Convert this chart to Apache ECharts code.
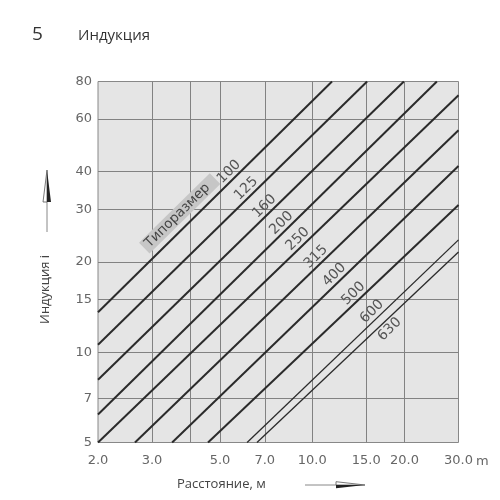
<!DOCTYPE html>
<html>
<head>
<meta charset="utf-8">
<script src="https://cdn.jsdelivr.net/npm/echarts@6/dist/echarts.min.js"></script>
<style>
html,body{margin:0;padding:0;background:#fff}
#container1{width:500px;height:500px}
</style>
</head>
<body>
<div id="container1"></div>
<script>
// типоразмеры (подписи линий)
var sizes = ['100', '125', '160', '200', '250', '315', '400', '500', '600', '630'];
// точки входа / выхода линий из поля графика: [расстояние м, индукция]
var lineStart = [[2.0, 13.6], [2.0, 10.6], [2.0, 8.1], [2.0, 6.2], [2.0, 5.0], [2.64, 5], [3.49, 5], [4.57, 5], [6.13, 5], [6.6, 5]];
var lineEnd = [[11.6, 80], [15.1, 80], [19.9, 80], [25.5, 80], [30, 72], [30, 55], [30, 41.8], [30, 31], [30, 23.7], [30, 21.6]];
// подписи и сетка осей
var xLabels = [2, 3, 5, 7, 10, 15, 20, 30];
var xGrid = [3, 4, 5, 7, 10, 15, 20];
var yLabels = [5, 7, 10, 15, 20, 30, 40, 60, 80];
var yGrid = [7, 10, 15, 20, 30, 40, 60];

// точка на линии (в лог. координатах) где lg(x)+lg(y)=c
function pointAt(a, b, c) {
	var x1 = Math.log10(a[0]), y1 = Math.log10(a[1]);
	var x2 = Math.log10(b[0]), y2 = Math.log10(b[1]);
	var t = (c - x1 - y1) / ((x2 + y2) - (x1 + y1));
	return [Math.pow(10, x1 + t * (x2 - x1)), Math.pow(10, y1 + t * (y2 - y1))];
}

var myChart = echarts.init(document.getElementById('container1'));
var numFont = 'DejaVu Sans';
var option = {
	animation: false,
	title: [
		{text: '5', left: 27, top: 20, textStyle: {fontFamily: 'Open Sans', fontSize: 19, fontWeight: 'normal', color: '#333'}},
		{text: 'Индукция', left: 73, top: 23, textStyle: {fontFamily: 'Open Sans', fontSize: 15, fontWeight: 'normal', color: '#333'}}
	],
	grid: {
		left: 98, right: 41.5, top: 81.5, bottom: 57.5,
		show: true, backgroundColor: '#e5e5e5', borderColor: '#888', borderWidth: 1
	},
	xAxis: {
		type: 'log', logBase: 10, min: 2, max: 30,
		axisLine: {show: false},
		axisTick: {show: false, customValues: xGrid},
		splitLine: {show: true, lineStyle: {color: '#828282', width: 1}},
		axisLabel: {
			customValues: xLabels, margin: 12,
			fontFamily: numFont, fontSize: 13, color: '#666',
			formatter: function (v) { return Number(v).toFixed(1); }
		}
	},
	yAxis: {
		type: 'log', logBase: 10, min: 5, max: 80,
		axisLine: {show: false},
		axisTick: {show: false, customValues: yGrid},
		splitLine: {show: true, lineStyle: {color: '#828282', width: 1}},
		axisLabel: {
			customValues: yLabels, margin: 6,
			fontFamily: numFont, fontSize: 13, color: '#666',
			formatter: function (v) { return String(Math.round(v)); }
		}
	},
	graphic: [
		{type: 'text', left: 476, top: 455, style: {text: 'm', fontFamily: numFont, fontSize: 13, fill: '#666'}},
		{type: 'text', x: 177, y: 478, style: {text: 'Расстояние, м', fontFamily: 'Open Sans', fontSize: 13, fill: '#444'}},
		{type: 'line', shape: {x1: 305, y1: 485, x2: 336, y2: 485}, style: {stroke: '#888', lineWidth: 1}},
		{type: 'polygon', shape: {points: [[336, 481.7], [365, 485], [336, 485]]}, style: {fill: '#fff', stroke: '#555', lineWidth: 0.8}},
		{type: 'polygon', shape: {points: [[336, 485], [365, 485], [336, 488.3]]}, style: {fill: '#222'}},
		{type: 'text', x: 39, y: 324, rotation: Math.PI / 2, style: {text: 'Индукция i', fontFamily: 'Open Sans', fontSize: 13, fill: '#444'}},
		{type: 'line', shape: {x1: 47, y1: 202, x2: 47, y2: 232}, style: {stroke: '#888', lineWidth: 1}},
		{type: 'polygon', shape: {points: [[43, 202], [47, 170], [47, 202]]}, style: {fill: '#fff', stroke: '#555', lineWidth: 0.8}},
		{type: 'polygon', shape: {points: [[47, 202], [47, 170], [51, 202]]}, style: {fill: '#222'}}
	],
	series: sizes.map(function (s, k) {
		var marks = [{name: s, coord: pointAt(lineStart[k], lineEnd[k], 2.33), label: {offset: [0, k == 9 ? 9 : -8]}}];
		if (k == 0) {
			marks.push({
				name: 'Типоразмер', coord: pointAt(lineStart[k], lineEnd[k], 2.02),
				label: {offset: [2, -13], color: '#444', backgroundColor: '#c6c6c6', padding: [1, 10, 0, 4], fontFamily: 'DejaVu Sans', fontSize: 13.5}
			});
		}
		return {
			name: s,
			type: 'line',
			data: [lineStart[k], lineEnd[k]],
			symbol: 'none',
			silent: true,
			lineStyle: {color: '#2b2b2b', width: k >= 8 ? 1.3 : 2},
			markPoint: {
				symbol: 'circle', symbolSize: 0, silent: true,
				label: {show: true, position: 'inside', formatter: '{b}', rotate: 44.5, fontFamily: numFont, fontSize: 14, color: '#555'},
				data: marks
			}
		};
	})
};
myChart.setOption(option, true);
</script>
</body>
</html>
